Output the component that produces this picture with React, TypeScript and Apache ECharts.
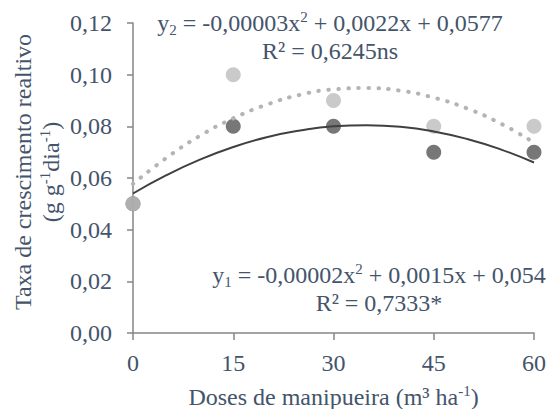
import React, { useEffect, useRef } from "react";
import * as echarts from "echarts";

// Observed data (Doses de manipueira, m³ ha-1)
const doses = [0, 15, 30, 45, 60];
const taxaY1 = [0.05, 0.08, 0.08, 0.07, 0.07];
const taxaY2 = [0.05, 0.1, 0.09, 0.08, 0.08];

// Trend curves
const trendX = [0, 5, 10, 15, 20, 25, 30, 35, 40, 45, 50, 55, 60];
const trendY1 = [0.054, 0.0611, 0.0671, 0.072, 0.0758, 0.0784, 0.08, 0.0804, 0.0798, 0.078, 0.0751, 0.0711, 0.066];
const trendY2 = [0.0577, 0.0678, 0.0763, 0.0831, 0.0884, 0.0922, 0.0943, 0.0948, 0.0938, 0.0911, 0.0869, 0.0811, 0.0737];

const yTickMin = 0;
const yTickMax = 0.12;
const yTickStep = 0.02;
const xTickMin = 0;
const xTickMax = 60;
const xTickStep = 15;

const eq2Text = "y{sub|2} = -0,00003x{sup|2} + 0,0022x + 0,0577\nR² = 0,6245ns";
const eq1Text = "y{sub|1} = -0,00002x{sup|2} + 0,0015x + 0,054\nR² = 0,7333*";
const yTitleText = "Taxa de crescimento realtivo\n(g g{sup|-1}dia{sup|-1})";
const xTitleText = "Doses de manipueira (m³ ha{sup|-1})";

const FONT = "Liberation Serif";
const TXT = "#44546A";
const AXIS = "#868686";

function pairs(xs: number[], ys: number[]) {
  return xs.map((x, i) => [x, ys[i]]);
}

const rich = {
  sup: { fontSize: 15, fontFamily: FONT, lineHeight: 18, verticalAlign: "top", fill: TXT },
  sub: { fontSize: 15, fontFamily: FONT, lineHeight: 18, verticalAlign: "bottom", fill: TXT },
};

function textEl(text: string, x: number, y: number, rotation = 0) {
  return {
    type: "text",
    x,
    y,
    rotation,
    silent: true,
    style: {
      text,
      fill: TXT,
      fontSize: 24,
      fontFamily: FONT,
      lineHeight: 28,
      align: "center",
      verticalAlign: "middle",
      textAlign: "center",
      textVerticalAlign: "middle",
      rich,
    },
  };
}

export default function App() {
  const ref = useRef<HTMLDivElement>(null);
  useEffect(() => {
    const chart = echarts.init(ref.current!, null, { renderer: "svg" });
    chart.setOption({
      animation: false,
      backgroundColor: "#ffffff",
      grid: { left: 133, right: 20, top: 23, bottom: 76, containLabel: false, outerBoundsMode: "none" },
      xAxis: {
        type: "value",
        min: xTickMin,
        max: xTickMax,
        interval: xTickStep,
        splitLine: { show: false },
        axisLine: { show: true, lineStyle: { color: AXIS, width: 1.5 } },
        axisTick: { show: true, inside: false, length: 7, lineStyle: { color: AXIS, width: 1.5 } },
        axisLabel: { color: TXT, fontSize: 24, fontFamily: FONT, margin: 18 },
      },
      yAxis: {
        type: "value",
        min: yTickMin,
        max: yTickMax,
        interval: yTickStep,
        splitLine: { show: false },
        axisLine: { show: true, lineStyle: { color: AXIS, width: 1.5 } },
        axisTick: { show: true, inside: false, length: 6, lineStyle: { color: AXIS, width: 1.5 } },
        axisLabel: {
          color: TXT,
          fontSize: 24,
          fontFamily: FONT,
          margin: 21,
          formatter: (v: number) => v.toFixed(2).replace(".", ","),
        },
      },
      series: [
        {
          type: "scatter",
          data: pairs(doses, taxaY1),
          symbol: "circle",
          symbolSize: 15,
          itemStyle: { color: "#555555" },
          z: 2,
        },
        {
          type: "scatter",
          data: pairs(doses, taxaY2),
          symbol: "circle",
          symbolSize: 15,
          itemStyle: { color: "#BDBDBD" },
          z: 3,
        },
        {
          type: "line",
          data: pairs(trendX, trendY2),
          smooth: true,
          showSymbol: false,
          symbol: "none",
          lineStyle: { color: "#B4B4B4", width: 4, type: [0.5, 9.5], cap: "round" },
          z: 4,
        },
        {
          type: "line",
          data: pairs(trendX, trendY1),
          smooth: true,
          showSymbol: false,
          symbol: "none",
          lineStyle: { color: "#404040", width: 2 },
          z: 5,
        },
      ],
      graphic: [
        textEl(eq2Text, 330, 37),
        textEl(eq1Text, 379, 289),
        textEl(yTitleText, 37, 172, Math.PI / 2),
        textEl(xTitleText, 333.5, 397),
      ],
    });
    return () => chart.dispose();
  }, []);
  return (
    <div
      ref={ref}
      style={{ position: "fixed", left: 0, top: 0, width: 554, height: 409, background: "#fff" }}
    />
  );
}
